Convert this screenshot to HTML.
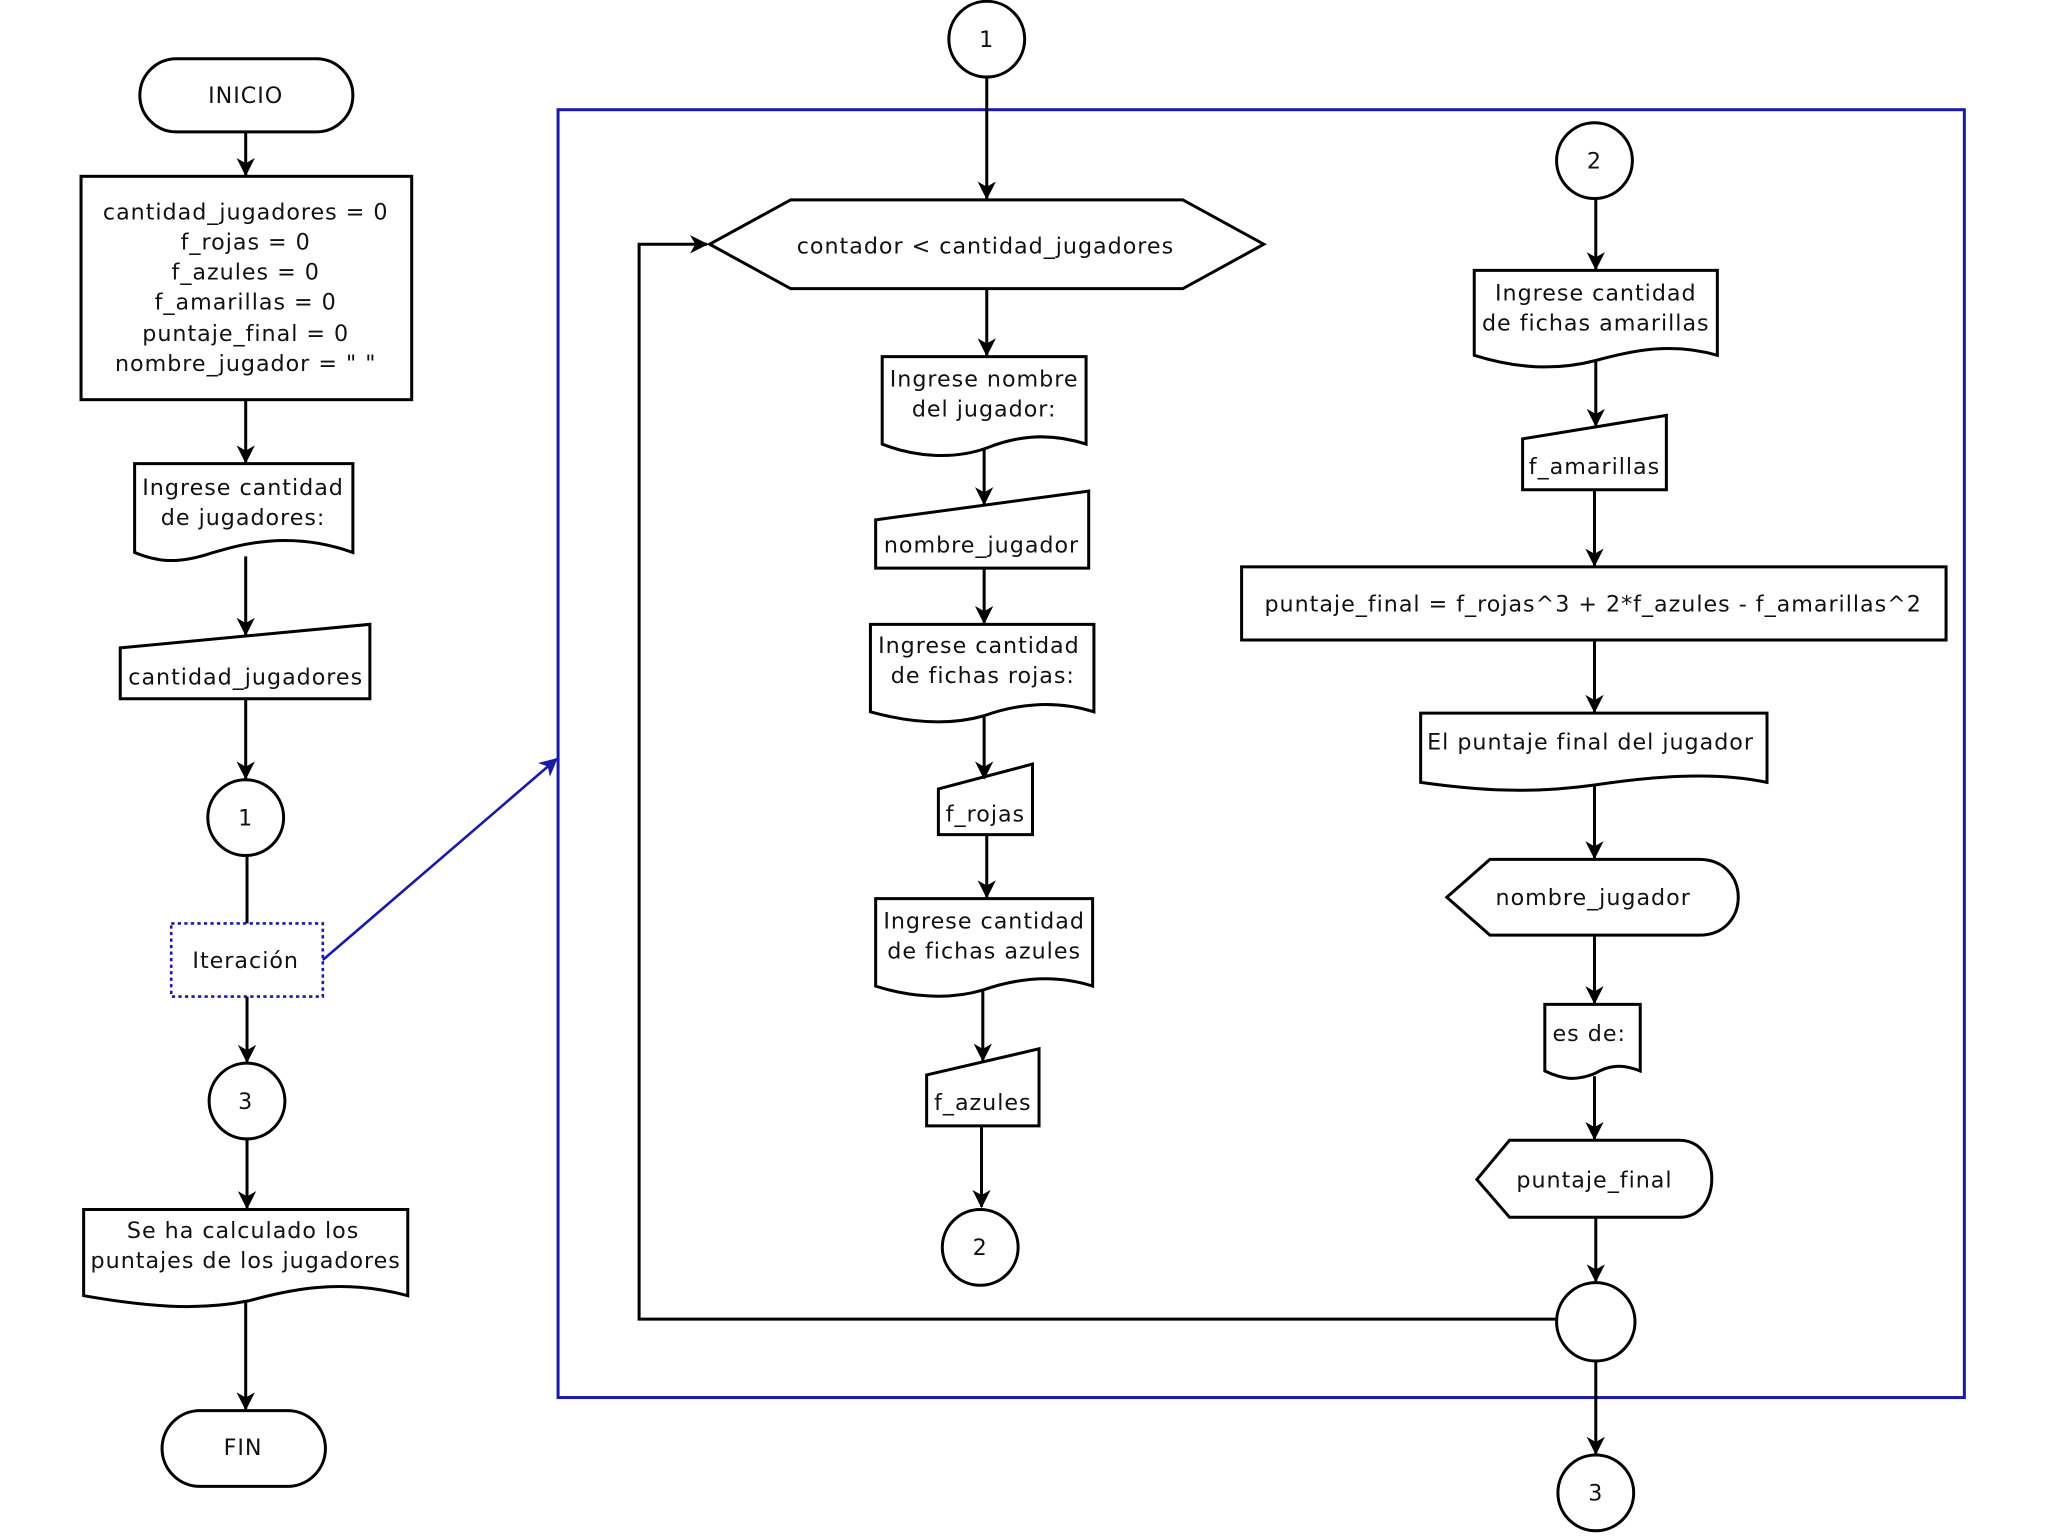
<!DOCTYPE html>
<html><head><meta charset="utf-8"><style>html,body{margin:0;padding:0;background:#fff}svg{display:block}</style></head>
<body>
<svg width="2048" height="1536" viewBox="0 0 1567 1176" preserveAspectRatio="none" xmlns="http://www.w3.org/2000/svg" font-family="DejaVu Sans, Liberation Sans, sans-serif" font-size="17" letter-spacing="0.75" fill="none" stroke="#000" stroke-width="2.3">
<defs>
<marker id="a" markerWidth="14" markerHeight="16" refX="13" refY="8" orient="auto" markerUnits="userSpaceOnUse"><path d="M0,1 L14,8 L0,15 L4,8 Z" fill="#000" stroke="none"/></marker>
<marker id="b" markerWidth="14" markerHeight="16" refX="13" refY="8" orient="auto" markerUnits="userSpaceOnUse"><path d="M0,1 L14,8 L0,15 L4,8 Z" fill="#1a1aa8" stroke="none"/></marker>
</defs>
<rect width="1567" height="1176" fill="#fff" stroke="none"/>
<rect x="427" y="84" width="1076" height="986" stroke="#1a1aa8" stroke-width="2.3"/>
<line x1="247" y1="735" x2="426" y2="581" stroke="#1a1aa8" stroke-width="2" marker-end="url(#b)"/>

<rect x="107" y="45" width="163" height="56" rx="28"/>
<line x1="188" y1="101" x2="188" y2="134" marker-end="url(#a)"/>
<rect x="62" y="135" width="253" height="171"/>
<line x1="188" y1="306" x2="188" y2="354" marker-end="url(#a)"/>
<path d="M103,355 H270 V423 C220,405 180,418 160,424 C135,432 120,430 103,423 Z"/>
<line x1="188" y1="426" x2="188" y2="486" marker-end="url(#a)"/>
<path d="M92,496 L283,478 V535 H92 Z"/>
<line x1="188" y1="535" x2="188" y2="596" marker-end="url(#a)"/>
<circle cx="188" cy="626" r="29"/>
<line x1="189" y1="655" x2="189" y2="707"/>
<rect x="131" y="707" width="116" height="56" stroke="#1a1aa8" stroke-width="2" stroke-dasharray="2.5,2.5"/>
<line x1="189" y1="763" x2="189" y2="813" marker-end="url(#a)"/>
<circle cx="189" cy="843" r="29"/>
<line x1="189" y1="872" x2="189" y2="925" marker-end="url(#a)"/>
<path d="M64,926 H312 V992 C260,978 220,988 190,996 C150,1004 110,1000 64,992 Z"/>
<line x1="188" y1="996" x2="188" y2="1079" marker-end="url(#a)"/>
<rect x="124" y="1080" width="125" height="58" rx="29"/>

<circle cx="755" cy="30" r="29"/>
<line x1="755" y1="59" x2="755" y2="152" marker-end="url(#a)"/>
<path d="M543,187 L605,153 H905 L967,187 L905,221 H605 Z"/>
<polyline points="1190,1010 489,1010 489,187 541,187" marker-end="url(#a)"/>
<line x1="755" y1="221" x2="755" y2="272" marker-end="url(#a)"/>
<path d="M675,273 H831 V340 C800,330 775,335 755,343 C730,352 700,350 675,340 Z"/>
<line x1="753" y1="344" x2="753" y2="386" marker-end="url(#a)"/>
<path d="M670,398 L833,376 V435 H670 Z"/>
<line x1="753" y1="435" x2="753" y2="477" marker-end="url(#a)"/>
<path d="M666,478 H837 V545 C805,535 775,540 753,548 C725,556 695,553 666,545 Z"/>
<line x1="753" y1="549" x2="753" y2="596" marker-end="url(#a)"/>
<path d="M718,604 L790,585 V639 H718 Z"/>
<line x1="755" y1="639" x2="755" y2="687" marker-end="url(#a)"/>
<path d="M670,688 H836 V755 C805,745 775,750 752,758 C725,766 695,763 670,755 Z"/>
<line x1="752" y1="759" x2="752" y2="812" marker-end="url(#a)"/>
<path d="M709,823 L795,803 V862 H709 Z"/>
<line x1="751" y1="862" x2="751" y2="924" marker-end="url(#a)"/>
<circle cx="750" cy="955" r="29"/>

<circle cx="1220" cy="123" r="29"/>
<line x1="1221" y1="152" x2="1221" y2="206" marker-end="url(#a)"/>
<path d="M1128,207 H1314 V272 C1280,262 1250,268 1221,276 C1190,284 1160,282 1128,272 Z"/>
<line x1="1221" y1="277" x2="1221" y2="326" marker-end="url(#a)"/>
<path d="M1165,336 L1275,318 V375 H1165 Z"/>
<line x1="1220" y1="375" x2="1220" y2="433" marker-end="url(#a)"/>
<rect x="950" y="434" width="539" height="56"/>
<line x1="1220" y1="490" x2="1220" y2="545" marker-end="url(#a)"/>
<path d="M1087,546 H1352 V599 C1310,590 1260,595 1220,601 C1170,608 1130,605 1087,599 Z"/>
<line x1="1220" y1="602" x2="1220" y2="657" marker-end="url(#a)"/>
<path d="M1107,687 L1140,658 H1300 C1340,658 1340,716 1300,716 H1140 Z"/>
<line x1="1220" y1="716" x2="1220" y2="768" marker-end="url(#a)"/>
<path d="M1182,769 H1255 V820 C1240,814 1230,816 1220,822 C1205,828 1195,826 1182,820 Z"/>
<line x1="1220" y1="824" x2="1220" y2="872" marker-end="url(#a)"/>
<path d="M1130,903 L1155,873 H1285 C1318,873 1318,932 1285,932 H1155 Z"/>
<line x1="1221" y1="932" x2="1221" y2="981" marker-end="url(#a)"/>
<circle cx="1221" cy="1012" r="30"/>
<line x1="1221" y1="1042" x2="1221" y2="1113" marker-end="url(#a)"/>
<circle cx="1221" cy="1143" r="29"/>

<g fill="#111" stroke="none" text-anchor="middle">
<text x="188" y="79">INICIO</text>
<text x="188" y="168">cantidad_jugadores = 0</text>
<text x="188" y="191">f_rojas = 0</text>
<text x="188" y="214">f_azules = 0</text>
<text x="188" y="237">f_amarillas = 0</text>
<text x="188" y="261">puntaje_final = 0</text>
<text x="188" y="284">nombre_jugador = " "</text>
<text x="186" y="379">Ingrese cantidad</text>
<text x="186" y="402">de jugadores:</text>
<text x="188" y="524">cantidad_jugadores</text>
<text x="188" y="632">1</text>
<text x="188" y="741">Iteración</text>
<text x="188" y="849">3</text>
<text x="186" y="948">Se ha calculado los</text>
<text x="188" y="971">puntajes de los jugadores</text>
<text x="186" y="1114">FIN</text>
<text x="755" y="36">1</text>
<text x="754" y="194">contador &lt; cantidad_jugadores</text>
<text x="753" y="296">Ingrese nombre</text>
<text x="753" y="319">del jugador:</text>
<text x="751" y="423">nombre_jugador</text>
<text x="749" y="500">Ingrese cantidad</text>
<text x="752" y="523">de fichas rojas:</text>
<text x="754" y="629">f_rojas</text>
<text x="753" y="711">Ingrese cantidad</text>
<text x="753" y="734">de fichas azules</text>
<text x="752" y="850">f_azules</text>
<text x="750" y="961">2</text>
<text x="1220" y="129">2</text>
<text x="1221" y="230">Ingrese cantidad</text>
<text x="1221" y="253">de fichas amarillas</text>
<text x="1220" y="363">f_amarillas</text>
<text x="1219" y="468">puntaje_final = f_rojas^3 + 2*f_azules - f_amarillas^2</text>
<text x="1217" y="574">El puntaje final del jugador</text>
<text x="1219" y="693">nombre_jugador</text>
<text x="1216" y="797">es de:</text>
<text x="1220" y="909">puntaje_final</text>
<text x="1221" y="1149">3</text>
</g>
</svg>
</body></html>
